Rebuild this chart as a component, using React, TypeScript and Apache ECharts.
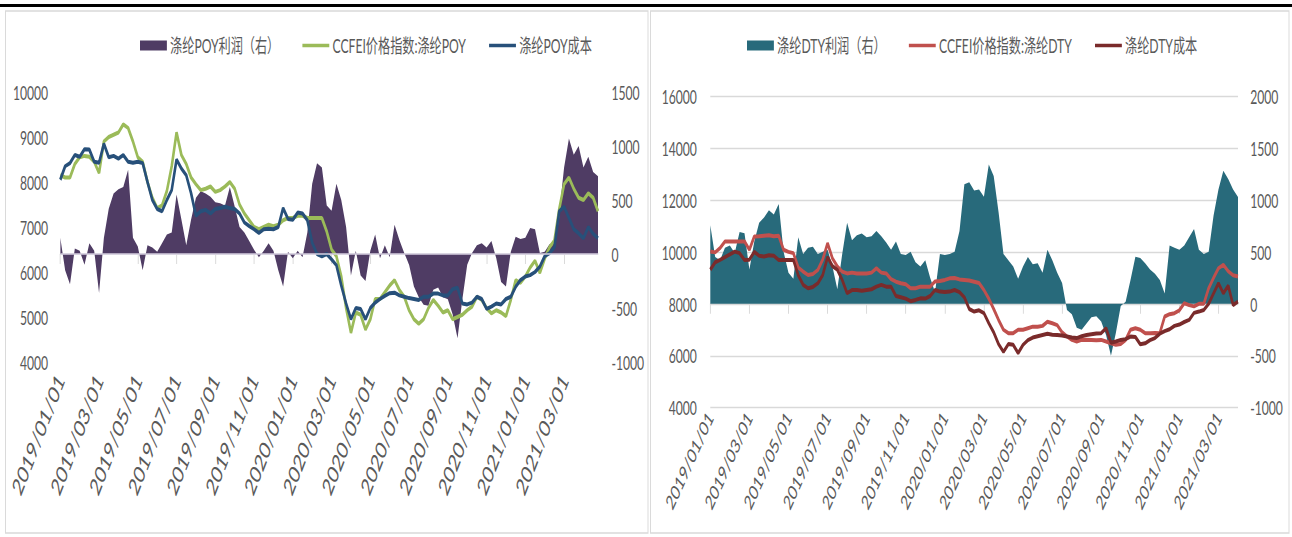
import React, { useEffect, useRef } from "react";
import * as echarts from "echarts";

// ---- data (quarter-month samples) ----
const DAYS = ["01", "08", "16", "24"];

const poyProfit = [150,-150,-280,50, 30,-100,100,30, -360,150,420,560, 600,620,780,150, 70,-150,80,60, 20,100,180,200, 550,320,80,320, 520,580,560,530, 480,470,450,620, 440,250,200,120, 40,-30,30,100, 30,-150,-300,20, -40,30,-30,200, 650,840,800,450, 400,650,500,250, -200,30,-200,-250, 30,180,-40,80, -30,270,130,10, -100,-300,-400,-470, -480,-330,-310,-400, -420,-560,-780,-420, -100,10,80,100, 60,120,-40,-260, -300,20,160,140, 150,240,230,10, 20,90,110,380, 800,1070,920,1000, 800,900,760,720];
const poyPrice = [8150,8100,8100,8400, 8550,8580,8560,8450, 8200,8900,9000,9050, 9100,9280,9200,8900, 8550,8450,8000,7650, 7420,7480,7800,8350, 9100,8600,8400,8100, 7950,7820,7850,7900, 7780,7820,7900,8000, 7850,7500,7300,7150, 7000,6950,7000,7050, 7020,7050,7150,7200, 7200,7250,7250,7200, 7200,7200,7200,6900, 6500,6350,5900,5200, 4650,5100,5050,4720, 4950,5400,5400,5550, 5700,5820,5600,5450, 5150,4950,4850,4950, 5200,5380,5250,5100, 5150,4950,5000,5050, 5150,5230,5450,5380, 5200,5080,5150,5100, 5020,5380,5820,5760, 5900,6100,6250,5980, 6300,6550,6700,7400, 7950,8100,7850,7650, 7600,7750,7650,7350];
const poyCost = [8050,8350,8420,8600, 8560,8730,8720,8450, 8430,8850,8550,8580, 8520,8600,8450,8430, 8450,8420,8000,7600, 7400,7350,7600,7820, 8500,8300,8150,7750, 7250,7350,7380,7300, 7400,7420,7450,7420, 7400,7300,7100,7020, 6950,6870,6950,6960, 6950,7000,7420,7180, 7160,7320,7300,7150, 6650,6400,6350,6400, 6280,6150,5700,5300, 4950,5200,5180,4950, 5200,5320,5400,5470, 5530,5540,5480,5450, 5420,5400,5380,5450, 5450,5520,5520,5480, 5480,5620,5650,5300, 5280,5320,5450,5400, 5180,5230,5300,5280, 5400,5450,5670,5820, 5900,5930,6000,6120, 6350,6420,6550,7350, 7450,7200,6950,6860, 6750,7000,6850,6750];

const dtyProfit = [756,450,420,540, 560,490,690,680, 330,600,780,830, 900,860,960,500, 300,240,640,480, 540,550,480,500, 520,360,140,480, 780,612,660,676, 640,650,700,650, 590,520,600,480, 470,500,400,360, 420,250,110,480, 470,480,500,700, 1150,1170,1090,1100, 1030,1340,1230,880, 480,420,360,240, 360,450,380,390, 300,520,420,300, 200,-60,-100,-230, -250,-190,-130,-120, -170,-300,-500,-280, -20,20,228,452, 440,390,330,290, 228,100,560,540, 520,560,640,720, 520,480,500,850, 1100,1280,1200,1100, 1029];
const dtyPrice = [10010,9980,10150,10400, 10400,10400,10400,10400, 10080,10590,10600,10620, 10640,10600,10620,10080, 10000,9950,9400,9240, 9110,9150,9300,9700, 10330,9750,9440,9240, 9170,9200,9170,9170, 9170,9200,9370,9200, 9170,8950,8850,8790, 8750,8600,8600,8660, 8660,8660,8860,8880, 8920,8980,8990,8940, 8920,8900,8850,8800, 8530,8200,7800,7380, 7000,6870,6870,7000, 7000,7060,7120,7120, 7150,7310,7250,7180, 6900,6740,6610,6550, 6610,6620,6610,6600, 6610,6550,6480,6420, 6450,6610,7000,7060, 7000,6870,6870,6880, 6870,7510,7600,7640, 7750,8020,7950,7900, 8000,8000,8600,9000, 9370,9500,9250,9100, 9050];
const dtyCost = [9310,9600,9690,9800, 9900,10010,9950,9690, 9700,10000,9850,9820, 9870,9850,9690,9690, 9690,9690,9100,8730, 8600,8650,8790,9100, 9800,9450,9310,8920, 8410,8530,8530,8500, 8530,8560,8660,8730, 8660,8660,8300,8250, 8200,8100,8150,8210, 8200,8300,8530,8470, 8450,8470,8530,8450, 8250,7800,7700,7750, 7640,7250,6900,6450, 6150,6450,6420,6100, 6420,6600,6700,6750, 6800,6850,6810,6800, 6780,6740,6700,6680, 6750,6800,6830,6860, 6870,7060,6500,6550, 6610,6640,6740,6720, 6440,6480,6600,6680, 6850,6950,7020,7150, 7200,7300,7380,7650, 7700,7760,8000,8400, 8790,8400,8700,7950, 8090];

const NAMES_L = ["涤纶POY利润（右）", "CCFEI价格指数:涤纶POY", "涤纶POY成本"];
const NAMES_R = ["涤纶DTY利润（右）", "CCFEI价格指数:涤纶DTY", "涤纶DTY成本"];

function buildDates(count: number): string[] {
  const out: string[] = [];
  for (let i = 0; i < count; i++) {
    const mi = Math.floor(i / 4);
    const y = 2019 + Math.floor(mi / 12);
    const mo = (mi % 12) + 1;
    out.push(`${y}/${String(mo).padStart(2, "0")}/${DAYS[i % 4]}`);
  }
  return out;
}

// ---- layout (picture is horizontally condensed) ----
const S = 0.64;
const W = Math.round(1292 / S);
const H = 537;
const vx = (x: number) => x / S;
const FONT = "Lato, 'Noto Sans CJK SC', sans-serif";
const TXT = "#595959";
const GRID = "#d9d9d9";
const LINE_ICON = "path://M0 0H42V3.5H0Z";

export default function App() {
  const ref = useRef<HTMLDivElement>(null);
  useEffect(() => {
    if (!ref.current) return;
    const chart = echarts.init(ref.current, undefined, { renderer: "svg" });
    const datesL = buildDates(poyPrice.length);
    const datesR = buildDates(dtyPrice.length);
    const xAxisBase = (gridIndex: number, data: string[], fontSize: number, rotate: number, margin: number) => ({
      type: "category",
      gridIndex,
      data,
      boundaryGap: false,
      axisLine: { show: true, lineStyle: { color: GRID, width: 1.5 } },
      axisTick: { show: true, interval: 7, length: 10, lineStyle: { color: GRID, width: 1.5 } },
      axisLabel: { interval: 7, rotate, margin, color: TXT, fontSize, fontFamily: FONT },
      splitLine: { show: false },
    });
    const yLabel = (margin: number) => ({ margin, color: TXT, fontSize: 19, fontFamily: FONT, formatter: (v: number) => String(v) });
    const legendBase = (left: number, names: string[]) => ({
      left,
      top: 31,
      itemWidth: 42,
      itemHeight: 10,
      itemGap: 36,
      selectedMode: false,
      textStyle: { color: TXT, fontSize: 19, fontFamily: FONT },
      data: [
        { name: names[0], icon: "rect" },
        { name: names[1], icon: LINE_ICON },
        { name: names[2], icon: LINE_ICON },
      ],
    });
    chart.setOption({
      animation: false,
      backgroundColor: "#ffffff",
      graphic: {
        elements: [
          { type: "rect", left: 0, top: 4, shape: { width: W, height: 3 }, style: { fill: "#000" }, silent: true },
          { type: "rect", shape: { x: vx(5.5), y: 11, width: vx(648) - vx(5.5), height: 522 }, style: { fill: "none", stroke: GRID, lineWidth: 1.5 }, silent: true },
          { type: "rect", shape: { x: vx(650.5), y: 11, width: vx(1289) - vx(650.5), height: 522 }, style: { fill: "none", stroke: GRID, lineWidth: 1.5 }, silent: true },
        ],
      },
      legend: [legendBase(vx(140) - 5, NAMES_L), legendBase(vx(747) - 5, NAMES_R)],
      grid: [
        { left: vx(60.3), width: vx(598) - vx(60.3), top: 92, height: 270 },
        { left: vx(710.3), width: vx(1238) - vx(710.3), top: 96, height: 311.7 },
      ],
      xAxis: [xAxisBase(0, datesL, 24.5, 59, 14), xAxisBase(1, datesR, 20.5, 55, 6)],
      yAxis: [
        { type: "value", gridIndex: 0, position: "left", min: 4000, max: 10000, interval: 1000, axisLine: { show: false }, axisTick: { show: false }, splitLine: { show: false }, axisLabel: yLabel(19) },
        { type: "value", gridIndex: 0, position: "right", min: -1000, max: 1500, interval: 500, axisLine: { show: false }, axisTick: { show: false }, splitLine: { show: false }, axisLabel: yLabel(21) },
        { type: "value", gridIndex: 1, position: "left", min: 4000, max: 16000, interval: 2000, axisLine: { show: false }, axisTick: { show: false }, splitLine: { show: true, lineStyle: { color: GRID, width: 1.3 } }, axisLabel: yLabel(21) },
        { type: "value", gridIndex: 1, position: "right", min: -1000, max: 2000, interval: 500, axisLine: { show: false }, axisTick: { show: false }, splitLine: { show: false }, axisLabel: yLabel(19) },
      ],
      series: [
        {
          name: NAMES_L[0], type: "line", xAxisIndex: 0, yAxisIndex: 1, data: poyProfit,
          showSymbol: false, color: "#4f3c64", lineStyle: { width: 0 }, areaStyle: { color: "#4f3c64", opacity: 1 },
          markLine: { silent: true, symbol: "none", label: { show: false }, lineStyle: { color: "#d6cfe0", width: 1.5, type: "solid" }, data: [{ yAxis: 0 }] },
        },
        { name: NAMES_L[1], type: "line", xAxisIndex: 0, yAxisIndex: 0, data: poyPrice, showSymbol: false, color: "#9bbb59", lineStyle: { width: 4, color: "#9bbb59" } },
        { name: NAMES_L[2], type: "line", xAxisIndex: 0, yAxisIndex: 0, data: poyCost, showSymbol: false, color: "#27507a", lineStyle: { width: 4, color: "#27507a" } },
        {
          name: NAMES_R[0], type: "line", xAxisIndex: 1, yAxisIndex: 3, data: dtyProfit,
          showSymbol: false, color: "#286a7b", lineStyle: { width: 0 }, areaStyle: { color: "#286a7b", opacity: 1 },
        },
        { name: NAMES_R[1], type: "line", xAxisIndex: 1, yAxisIndex: 2, data: dtyPrice, showSymbol: false, color: "#c0504d", lineStyle: { width: 4, color: "#c0504d" } },
        { name: NAMES_R[2], type: "line", xAxisIndex: 1, yAxisIndex: 2, data: dtyCost, showSymbol: false, color: "#7a2b2b", lineStyle: { width: 4, color: "#7a2b2b" } },
      ],
    });
    return () => chart.dispose();
  }, []);
  return (
    <div style={{ position: "fixed", left: 0, top: 0, width: 1292, height: 537, overflow: "hidden", background: "#fff" }}>
      <div ref={ref} style={{ width: W, height: H, transform: `scaleX(${S})`, transformOrigin: "0 0" }} />
    </div>
  );
}
